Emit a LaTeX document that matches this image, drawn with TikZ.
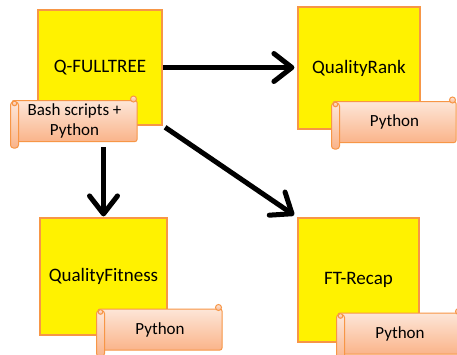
\documentclass[tikz,border=0pt]{standalone}
\usepackage{fontspec}
\setmainfont{Carlito}
\usetikzlibrary{arrows.meta}
\definecolor{boxline}{RGB}{247,150,70}
\definecolor{scrolltop}{RGB}{253,230,216}
\definecolor{scrollbot}{RGB}{250,180,138}

\begin{document}
\begin{tikzpicture}[x=1pt,y=-1pt,
  module/.style={draw=boxline, line width=1.2pt, fill=yellow, inner sep=0pt, font=\fontsize{19}{22}\selectfont},
  scrollbox/.style={draw=boxline, line width=1pt, top color=scrolltop, bottom color=scrollbot, rounded corners=2pt, inner sep=0pt, align=center, minimum height=41, font=\fontsize{17}{20}\selectfont},
  roll/.style={draw=boxline, line width=1pt, top color=scrolltop, bottom color=scrollbot},
  link/.style={line width=5pt, -{Straight Barb[length=18pt,width=28pt,round]}}]
\clip (0,0) rectangle (457,354);
\fill[white] (0,0) rectangle (457,354);

% modules
\node[module, minimum width=124, minimum height=115] (ft) at (100,67.5) {Q-FULLTREE};
\node[module, minimum width=122, minimum height=122] (qr) at (359,68) {QualityRank};
\node[module, minimum width=127, minimum height=117] (qf) at (103.5,276.5) {QualityFitness};
\node[module, minimum width=121, minimum height=124] (rc) at (358.5,280) {FT-Recap};

% scrolls
\node[scrollbox, minimum width=125] (s1) at (74.5,121) {Bash scripts +\\Python};
\node[scrollbox, minimum width=123] (s2) at (394.5,122) {Python};
\node[scrollbox, minimum width=124] (s3) at (160,329.5) {Python};
\node[scrollbox, minimum width=124] (s4) at (400,333.5) {Python};
\foreach \s in {s1,s2,s3,s4}{
  \draw[roll, rounded corners=3pt] ([xshift=-1pt,yshift=-2pt]\s.north west) rectangle ([xshift=7pt,yshift=-6pt]\s.south west);
  \draw[roll] ([xshift=3pt,yshift=-3.5pt]\s.north west) circle[radius=2.3pt];
  \draw[roll] ([xshift=-4pt,yshift=1pt]\s.north east) circle[radius=3pt];
}

% links
\draw[link, shorten >=3pt] (ft.east) -- (ft.east -| qr.west);
\draw[link, shorten <=5pt, shorten >=1pt] (qf.north |- s1.south) -- (qf.north);
\draw[link, shorten <=3pt, shorten >=4pt] (ft.south east) -- (rc.north west);
\end{tikzpicture}
\end{document}
